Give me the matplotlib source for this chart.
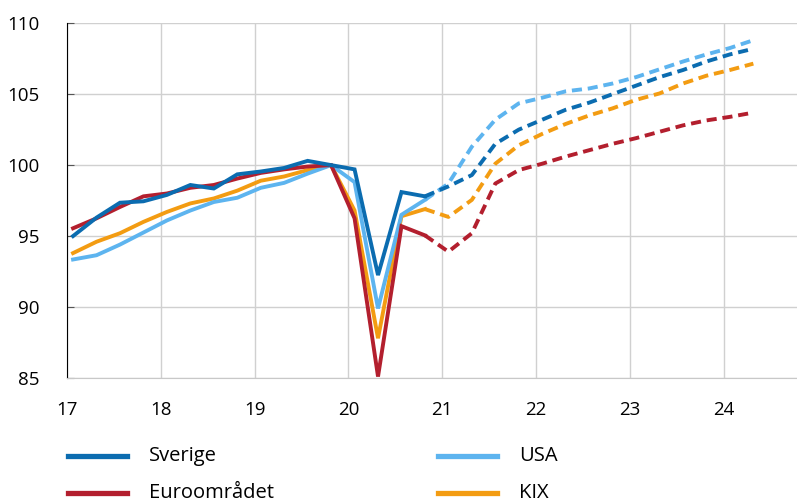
import numpy as np
import matplotlib
matplotlib.use('Agg')
import matplotlib.pyplot as plt
from matplotlib.lines import Line2D

plt.rcParams['font.family'] = ['Open Sans', 'DejaVu Sans']

# quarterly, 2017Q1 .. 2024Q2 ; outcome up to 2020Q4, forecast after
start_year = 17
n_q = 30
last_outcome = 15  # index of 2020Q4

sverige = [95.0, 96.3, 97.35, 97.45, 97.9, 98.6, 98.35, 99.35, 99.55, 99.8,
           100.3, 100.0, 99.7, 92.25, 98.1, 97.8,
           98.5, 99.3, 101.5, 102.5, 103.2, 103.9, 104.4, 105.0, 105.6, 106.2,
           106.7, 107.3, 107.8, 108.2]
usa = [93.35, 93.65, 94.4, 95.25, 96.1, 96.8, 97.4, 97.7, 98.4, 98.75,
       99.4, 100.0, 98.8, 89.9, 96.5, 97.55,
       98.7, 101.3, 103.2, 104.35, 104.75, 105.2, 105.4, 105.75, 106.2, 106.75,
       107.3, 107.8, 108.25, 108.8]
euro = [95.55, 96.25, 97.05, 97.8, 98.0, 98.4, 98.6, 99.05, 99.45, 99.7,
        99.9, 100.0, 96.25, 85.1, 95.7, 95.05,
        93.9, 95.2, 98.7, 99.65, 100.1, 100.6, 101.05, 101.5, 101.9, 102.35,
        102.8, 103.15, 103.4, 103.7]
kix = [93.8, 94.6, 95.2, 96.0, 96.7, 97.3, 97.65, 98.2, 98.9, 99.2,
       99.65, 100.0, 96.8, 87.8, 96.4, 96.9,
       96.35, 97.55, 100.1, 101.4, 102.2, 102.9, 103.5, 104.0, 104.6, 105.05,
       105.75, 106.3, 106.7, 107.15]

names = ['Sverige', 'USA', 'Euroområdet', 'KIX']
colors = {'Sverige': '#0b6cb0', 'USA': '#5db4ef',
          'Euroområdet': '#b31f2e', 'KIX': '#f39c12'}
values = {'Sverige': sverige, 'USA': usa, 'Euroområdet': euro, 'KIX': kix}

x = start_year + np.arange(n_q) * 0.25 + 0.065

fig = plt.figure(figsize=(7.97, 5.04), dpi=100)
ax = fig.add_axes([0.084, 0.25, 0.916, 0.704])

for name in ['KIX', 'USA', 'Euroområdet', 'Sverige']:
    vals = np.array(values[name])
    col = colors[name]
    k = last_outcome
    ax.plot(x[:k + 1], vals[:k + 1], color=col, lw=2.8, solid_joinstyle='miter')
    ax.plot(x[k:], vals[k:], color=col, lw=2.8, linestyle=(0, (2.6, 1.5)))

ax.set_xlim(17, 24.78)
ax.set_ylim(85, 110)
ax.set_xticks(range(17, 25))
ax.set_xticklabels([str(v) for v in range(17, 25)])
ax.set_yticks(range(85, 111, 5))
ax.grid(True, color='#d0d0d0', lw=1)
ax.set_axisbelow(True)
for s in ['top', 'right']:
    ax.spines[s].set_visible(False)
ax.spines['left'].set_color('black')
ax.spines['bottom'].set_color('#c8c8c8')
ax.tick_params(axis='x', length=0, labelsize=13.5, pad=16.5)
ax.tick_params(axis='y', direction='in', length=5, color='#555555',
               labelsize=13.5, pad=20)

# legend, two columns (figure coordinates)
legend_pos = {'Sverige': (0.0853, 0.0952), 'USA': (0.5496, 0.0952),
              'Euroområdet': (0.0853, 0.0218), 'KIX': (0.5496, 0.0218)}
for name in names:
    lx, ly = legend_pos[name]
    fig.add_artist(Line2D([lx, lx + 0.074], [ly, ly], color=colors[name],
                          lw=3.8, transform=fig.transFigure))
    fig.text(lx + 0.102, ly, name, fontsize=14.5, va='center', ha='left')

fig.savefig('out.png', dpi=100)
